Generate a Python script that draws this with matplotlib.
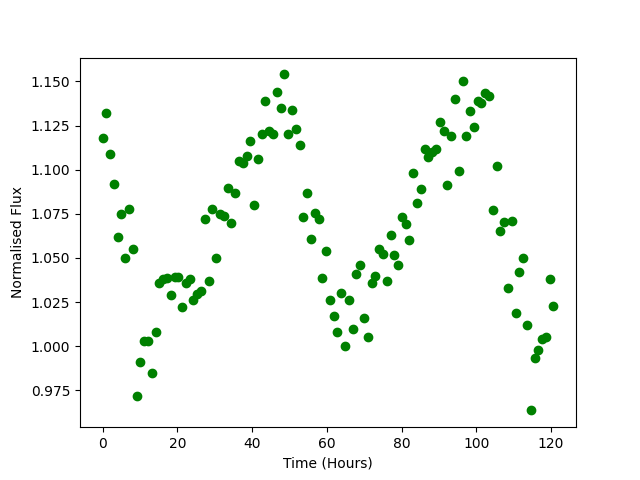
import numpy as np
import matplotlib
matplotlib.use('Agg')
import matplotlib.pyplot as plt

# sample cadence in hours (approx. 1.014 h between exposures)
cadence = 1.0137
n_samples = 120

flux = [1.118, 1.132, 1.109, 1.092, 1.062, 1.075, 1.050, 1.078, 1.055, 0.9715,
        0.991, 1.003, 1.003, 0.985, 1.008, 1.036, 1.038, 1.0385, 1.029, 1.039,
        1.039, 1.022, 1.036, 1.038, 1.026, 1.0295, 1.031, 1.072, 1.037, 1.078,
        1.050, 1.075, 1.0735, 1.0895, 1.070, 1.087, 1.105, 1.104, 1.108, 1.116,
        1.080, 1.106, 1.120, 1.139, 1.122, 1.120, 1.144, 1.135, 1.154, 1.1205,
        1.134, 1.123, 1.114, 1.073, 1.087, 1.061, 1.0755, 1.072, 1.0385, 1.054,
        1.026, 1.017, 1.008, 1.030, 1.000, 1.026, 1.0095, 1.041, 1.046, 1.016,
        1.005, 1.036, 1.040, 1.055, 1.052, 1.037, 1.063, 1.0515, 1.046, 1.073,
        1.069, 1.060, 1.098, 1.081, 1.089, 1.112, 1.107, 1.110, 1.1115, 1.127,
        1.122, 1.0915, 1.119, 1.140, 1.099, 1.150, 1.119, 1.1335, 1.124, 1.139,
        1.1376, 1.1437, 1.142, 1.077, 1.102, 1.065, 1.0706, 1.033, 1.071, 1.019,
        1.042, 1.050, 1.012, 0.9636, 0.9934, 0.9976, 1.004, 1.005, 1.038, 1.0225]

time = np.arange(n_samples) * cadence

plt.figure(figsize=(6.4, 4.8), dpi=100)
plt.plot(time, flux, 'o', color='green')
plt.xlabel('Time (Hours)')
plt.ylabel('Normalised Flux')
plt.savefig('out.png')
